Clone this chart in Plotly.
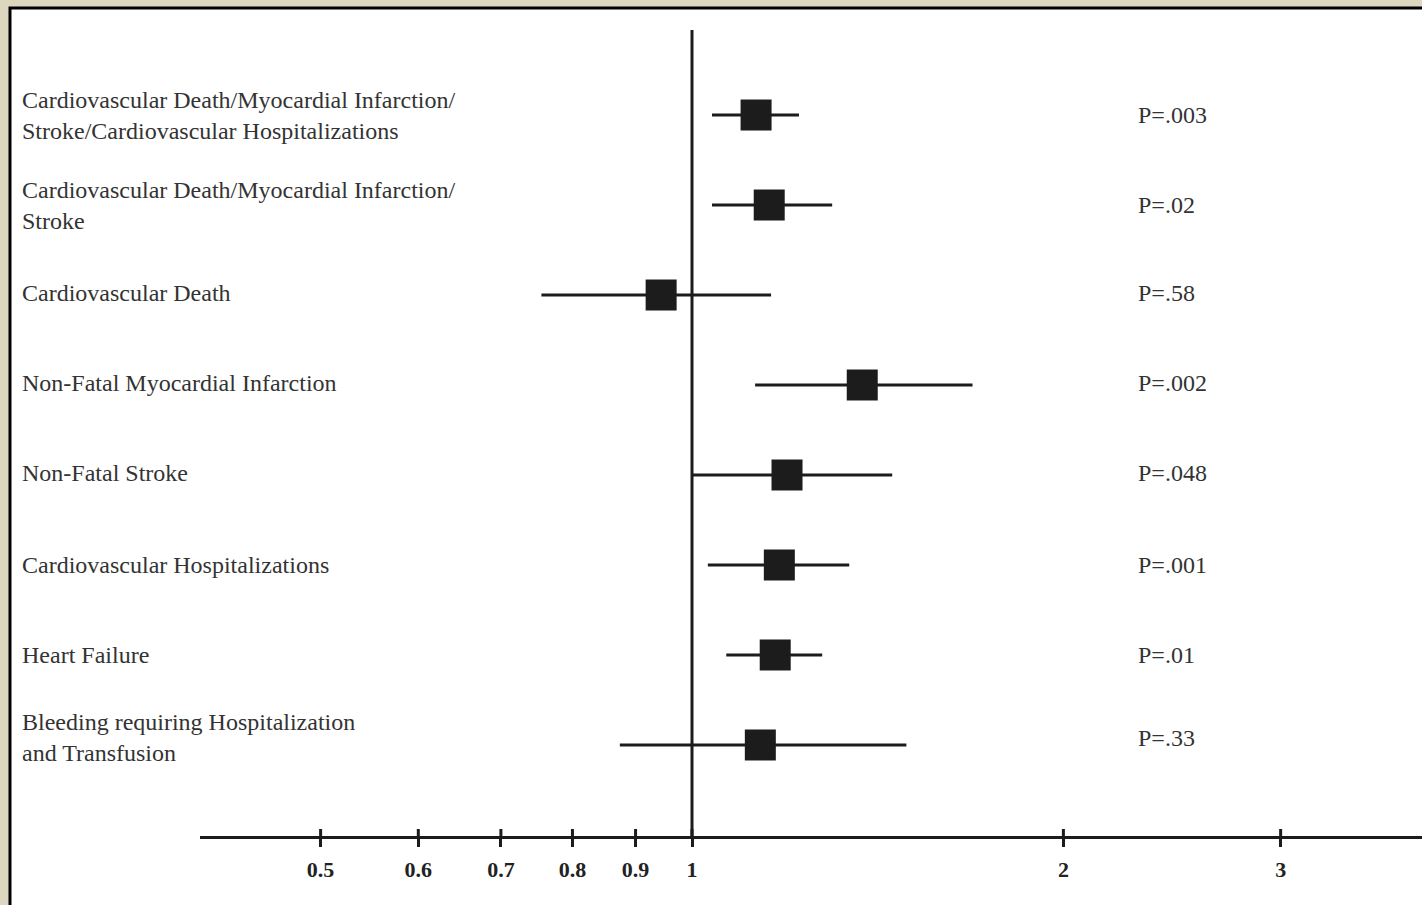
import plotly.graph_objects as go

outcomes = [
    "Cardiovascular Death/Myocardial Infarction/<br>Stroke/Cardiovascular Hospitalizations",
    "Cardiovascular Death/Myocardial Infarction/<br>Stroke",
    "Cardiovascular Death",
    "Non-Fatal Myocardial Infarction",
    "Non-Fatal Stroke",
    "Cardiovascular Hospitalizations",
    "Heart Failure",
    "Bleeding requiring Hospitalization<br>and Transfusion",
]
hazard_ratio = [1.127, 1.155, 0.944, 1.374, 1.194, 1.177, 1.168, 1.136]
ci_low = [1.038, 1.038, 0.755, 1.125, 1.000, 1.030, 1.066, 0.874]
ci_high = [1.221, 1.299, 1.159, 1.688, 1.453, 1.341, 1.275, 1.492]
p_values = ["P=.003", "P=.02", "P=.58", "P=.002", "P=.048", "P=.001", "P=.01", "P=.33"]
tick_vals = [0.5, 0.6, 0.7, 0.8, 0.9, 1, 2, 3]
tick_text = ["0.5", "0.6", "0.7", "0.8", "0.9", "1", "2", "3"]

# vertical pixel nudges of the text for each row (style only)
text_shift = [0, 0, 2, 2, 2, 0, 0, 7]

rows = list(range(len(outcomes)))
W, H = 1422, 905
axis_frac = (H - 837) / H
label_font = dict(family="Liberation Serif, Times New Roman, serif", size=24, color="#333333")

fig = go.Figure()
fig.add_trace(go.Scatter(
    x=hazard_ratio, y=rows, mode="markers",
    marker=dict(symbol="square", size=31, color="#1c1c1c", line=dict(width=0)),
    error_x=dict(type="data", symmetric=False,
                 array=[h - e for h, e in zip(ci_high, hazard_ratio)],
                 arrayminus=[e - l for e, l in zip(hazard_ratio, ci_low)],
                 width=0, thickness=3, color="#1c1c1c"),
    hoverinfo="skip", showlegend=False,
))

shapes = [
    dict(type="rect", xref="paper", yref="paper", x0=10 / W, x1=1.05, y0=-0.05, y1=1 - 8 / H,
         fillcolor="white", line=dict(color="black", width=3), layer="below"),
    dict(type="line", xref="x", yref="paper", x0=1, x1=1, y0=axis_frac, y1=1 - 30 / H,
         line=dict(color="#1c1c1c", width=3)),
]
for tv in tick_vals:
    shapes.append(dict(type="line", xref="x", yref="paper", x0=tv, x1=tv,
                       y0=axis_frac, y1=axis_frac + 8 / H,
                       line=dict(color="#1c1c1c", width=3)))

annotations = []
for r, lab, p, s in zip(rows, outcomes, p_values, text_shift):
    annotations.append(dict(x=20 / W, xref="paper", y=r, yref="y", text=lab, showarrow=False,
                            xanchor="left", yanchor="middle", align="left", yshift=s,
                            font=label_font))
    annotations.append(dict(x=1136 / W, xref="paper", y=r, yref="y", text=p, showarrow=False,
                            xanchor="left", yanchor="middle", align="left", yshift=s,
                            font=label_font))

fig.update_layout(
    width=W, height=H,
    margin=dict(l=0, r=0, t=0, b=0),
    paper_bgcolor="#DED7C0",
    plot_bgcolor="rgba(0,0,0,0)",
    shapes=shapes,
    annotations=annotations,
    xaxis=dict(type="log", range=[-0.3988, 0.5917], domain=[200 / W, 1],
               anchor="free", position=axis_frac,
               showline=True, linecolor="#1c1c1c", linewidth=3,
               tickvals=tick_vals, ticktext=tick_text,
               ticks="outside", ticklen=8, tickwidth=3, tickcolor="#1c1c1c",
               ticklabelstandoff=4,
               tickfont=dict(family="Liberation Serif, Times New Roman, serif", size=22,
                             color="#222222", weight="bold"),
               showgrid=False, zeroline=False),
    yaxis=dict(range=[8.778, -1.278], visible=False, domain=[0, 1], showgrid=False),
)

fig.write_html("out.html")
